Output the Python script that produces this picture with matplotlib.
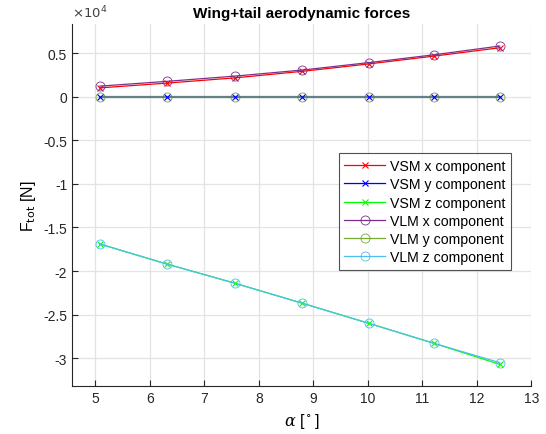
import numpy as np
import matplotlib.pyplot as plt
from matplotlib.ticker import FuncFormatter

plt.rcParams['font.family'] = ['Liberation Sans', 'DejaVu Sans']
plt.rcParams['mathtext.fontset'] = 'dejavuserif'

# angle of attack [deg]
alpha = [5.08, 6.31, 7.56, 8.80, 10.02, 11.22, 12.42]

# total force components [N]
vsm_x = [1000, 1550, 2150, 2900, 3750, 4650, 5600]
vsm_y = [0, 0, 0, 0, 0, 0, 0]
vsm_z = [-16900, -19200, -21400, -23700, -26000, -28300, -30700]
vlm_x = [1200, 1750, 2350, 3050, 3900, 4800, 5800]
vlm_y = [0, 0, 0, 0, 0, 0, 0]
vlm_z = [-16900, -19200, -21400, -23700, -26000, -28300, -30500]

c_purple = (0.494, 0.184, 0.556)
c_olive = (0.466, 0.674, 0.188)
c_cyan = (0.301, 0.745, 0.933)

fig = plt.figure(figsize=(5.46, 4.35), dpi=100)
ax = fig.add_axes([0.132, 0.110, 0.841, 0.832])

lw = 0.9
kx = dict(marker='x', ms=5, mew=0.8, lw=lw)
ko = dict(marker='o', ms=6.5, mfc='none', mew=0.6, lw=lw)
ax.plot(alpha, vsm_x, color='r', label='VSM x component', **kx)
ax.plot(alpha, vsm_z, color=(0, 1, 0), label='VSM z component', **kx)
ax.plot(alpha, vlm_x, color=c_purple, label='VLM x component', **ko)
ax.plot(alpha, vlm_z, color=c_cyan, label='VLM z component', **ko)
# the two y components overlap on zero, blend their lines
ax.plot(alpha, vlm_y, color=c_olive + (0.8,), mec=c_olive, label='VLM y component',
        **dict(ko, lw=1.6))
ax.plot(alpha, vsm_y, color=(0, 0, 1, 0.3), mec='b', label='VSM y component',
        **dict(kx, lw=1.6))

ax.set_xlim(4.57, 13)
ax.set_ylim(-33200, 8300)
ax.set_xticks(np.arange(5, 14, 1))
ax.set_yticks(np.arange(-30000, 5001, 5000))
ax.yaxis.set_major_formatter(FuncFormatter(lambda v, p: '%g' % (v / 1e4)))

ax.grid(True, color='#e3e3e3', lw=0.9)
ax.set_axisbelow(True)
for s in ['top', 'right']:
    ax.spines[s].set_visible(False)
for s in ['left', 'bottom']:
    ax.spines[s].set_color('#262626')
    ax.spines[s].set_linewidth(0.8)
ax.tick_params(direction='in', length=4, width=0.8, colors='#262626', labelsize=10)

ax.text(0.0, 1.012, r'$\times 10^{4}$', transform=ax.transAxes, fontsize=9.5,
        color='#404040', ha='left', va='bottom', math_fontfamily='dejavusans')

ax.set_title('Wing+tail aerodynamic forces', fontsize=11, fontweight='bold', pad=5)
ax.set_ylabel(r'F$_{\rm tot}$ [N]', fontsize=11.5, math_fontfamily='dejavusans')
ax.set_xlabel(r'$\alpha$ [$^\circ$]', fontsize=11.5)

handles, labels = ax.get_legend_handles_labels()
order = ['VSM x component', 'VSM y component', 'VSM z component',
         'VLM x component', 'VLM y component', 'VLM z component']
hmap = dict(zip(labels, handles))
leg = ax.legend([hmap[k] for k in order], order, loc='upper right',
                bbox_to_anchor=(0.955, 0.643), fontsize=10.2,
                frameon=True, fancybox=False, edgecolor='#262626', borderpad=0.4,
                labelspacing=0.3, handlelength=2.9, handletextpad=0.3, borderaxespad=0)
leg.get_frame().set_linewidth(0.8)
for h in leg.legend_handles:
    h.set_alpha(1)
    h.set_linewidth(lw)

fig.savefig('out.png', dpi=100)
